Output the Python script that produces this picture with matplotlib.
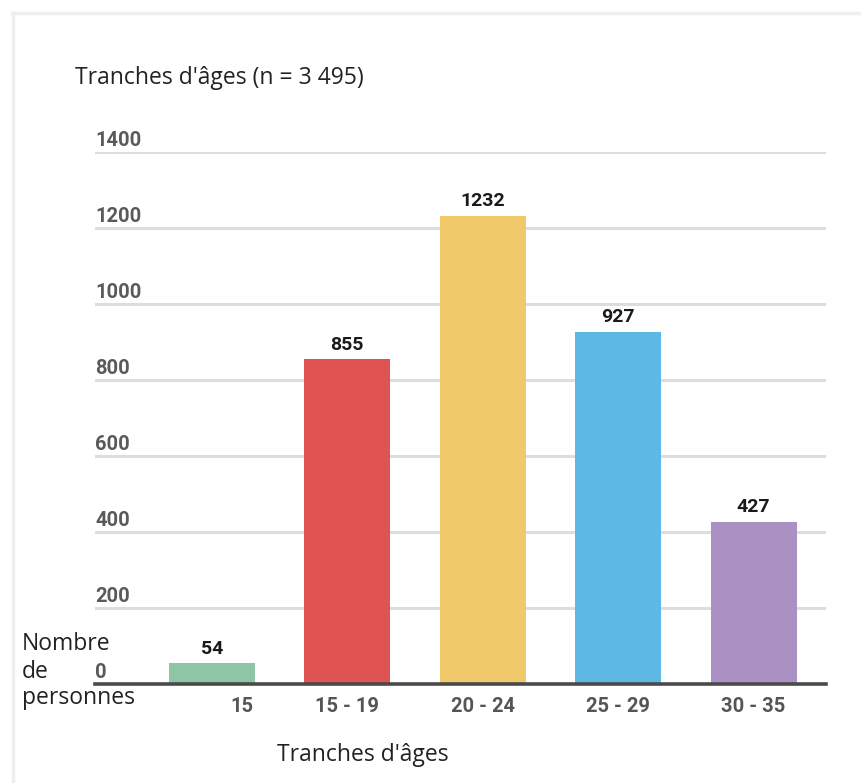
import matplotlib
matplotlib.use("Agg")
import matplotlib.pyplot as plt
from matplotlib.lines import Line2D
from matplotlib.transforms import ScaledTranslation, blended_transform_factory

# Age groups and headcounts
categories = ["15", "15 - 19", "20 - 24", "25 - 29", "30 - 35"]
counts = [54, 855, 1232, 927, 427]
colors = ["#8dc5a6", "#e05353", "#f0c96b", "#5db8e6", "#ab90c4"]
y_ticks = [0, 200, 400, 600, 800, 1000, 1200, 1400]
y_title_lines = ["Nombre", "de", "personnes"]

W, H, DPI = 861, 783, 100
fig = plt.figure(figsize=(W / DPI, H / DPI), dpi=DPI)
fig.patch.set_facecolor("white")

# Light frame on the top and left edges
fig.add_artist(Line2D([12 / W, 1.0], [1 - 13 / H, 1 - 13 / H], color="#eeeeee", lw=2.5,
                      transform=fig.transFigure))
fig.add_artist(Line2D([13 / W, 13 / W], [0.0, 1 - 13 / H], color="#eeeeee", lw=2.5,
                      transform=fig.transFigure))

ax_left, ax_right = 95 / W, 826 / W
ax_bottom, ax_top = 1 - 684 / H, 1 - 152 / H
ax = fig.add_axes([ax_left, ax_bottom, ax_right - ax_left, ax_top - ax_bottom])

x = range(len(categories))
ax.bar(x, counts, width=0.635, color=colors, zorder=3)

ax.set_xlim(-0.863, 4.535)
ax.set_ylim(0, 1400)

for s in ax.spines.values():
    s.set_visible(False)

# Horizontal grid lines and baseline
for v in y_ticks[1:]:
    ax.axhline(v, color="#dddddd", lw=2.2, zorder=1)
ax.axhline(0, color="#4a4a4a", lw=2.6, zorder=4, clip_on=False)

# Y values written just above each grid line
ax.set_yticks([])
trans = blended_transform_factory(ax.transAxes, ax.transData)
for v in y_ticks:
    ax.annotate(str(v), (0.0, v), xycoords=trans, xytext=(0, 1.5), textcoords="offset points",
                ha="left", va="bottom", fontsize=14.5, fontweight="bold",
                color="#5a5a5a", family="Roboto")

# Category labels
ax.set_xticks(list(x))
ax.set_xticklabels(categories, fontsize=14.5, fontweight="bold", color="#555555",
                   family="Roboto")
ax.tick_params(axis="x", length=0, pad=9)
first = ax.get_xticklabels()[0]
first.set_transform(first.get_transform() + ScaledTranslation(0.30, 0, fig.dpi_scale_trans))

# Value labels above bars
for xi, c in zip(x, counts):
    ax.annotate(str(c), (xi, c), xytext=(0, 4), textcoords="offset points",
                ha="center", va="bottom", fontsize=14, fontweight="bold",
                color="#1a1a1a", family="Roboto", zorder=5)

# Titles
fig.text(75 / W, 1 - 78 / H, "Tranches d'âges (n = 3 495)", ha="left", va="center",
         fontsize=16.5, color="#222222", family="Open Sans")
fig.text(363 / W, 1 - 755 / H, "Tranches d'âges", ha="center", va="center",
         fontsize=16.5, color="#222222", family="Open Sans")
for line, base in zip(y_title_lines, [650, 678, 704]):
    fig.text(22 / W, 1 - base / H, line, ha="left", va="baseline",
             fontsize=16.5, color="#222222", family="Open Sans")

fig.savefig("out.png", dpi=DPI)
